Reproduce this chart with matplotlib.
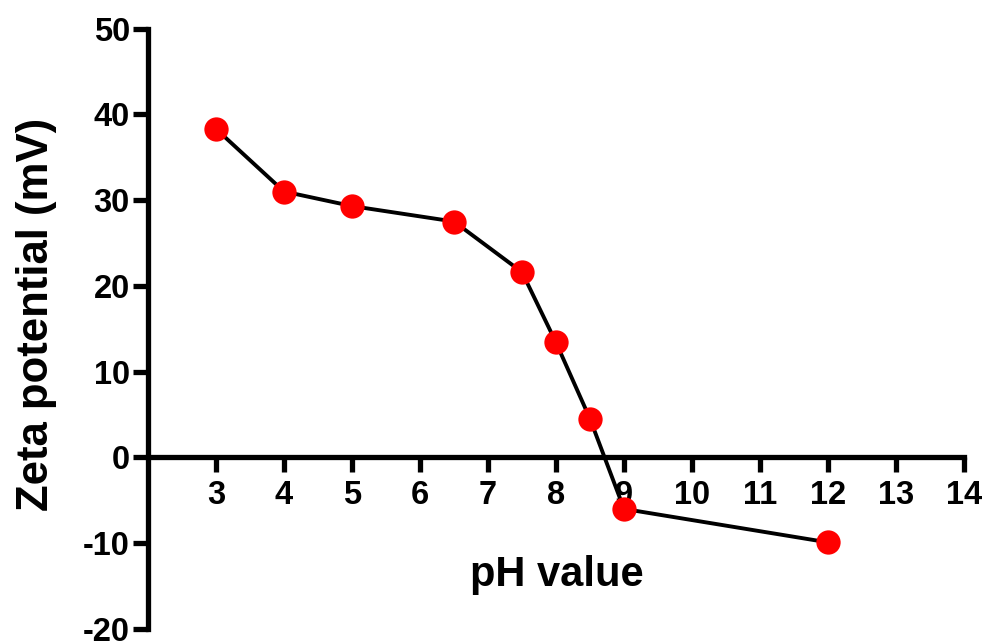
import matplotlib
matplotlib.use("Agg")
import matplotlib.pyplot as plt

# zeta potential measured against pH
ph = [3, 4, 5, 6.5, 7.5, 8, 8.5, 9, 12]
zeta_mv = [38.3, 31.0, 29.3, 27.5, 21.6, 13.4, 4.5, -6.0, -9.9]

x_ticks = [3, 4, 5, 6, 7, 8, 9, 10, 11, 12, 13, 14]
y_ticks = [-20, -10, 0, 10, 20, 30, 40, 50]

plt.rcParams['font.family'] = ['Liberation Sans', 'DejaVu Sans']
plt.rcParams['font.weight'] = 'bold'
plt.rcParams['axes.unicode_minus'] = False

fig = plt.figure(figsize=(9.84, 6.41), dpi=100)
ax = fig.add_axes([0.1504, 0.0187, 0.8293, 0.9368])

ax.plot(ph, zeta_mv, color='black', linewidth=2.8, marker='o',
        markersize=17.5, markerfacecolor='#ff0000', markeredgewidth=0,
        clip_on=False, zorder=3)

ax.set_xlim(2, 14)
ax.set_ylim(-20, 50)
ax.set_xticks(x_ticks)
ax.set_yticks(y_ticks)

ax.spines['top'].set_visible(False)
ax.spines['right'].set_visible(False)
ax.spines['bottom'].set_position(('data', 0))
for side in ('left', 'bottom'):
    ax.spines[side].set_linewidth(3.8)

ax.tick_params(axis='x', direction='out', length=10.5, width=3.8,
               pad=6, labelsize=23.5)
ax.tick_params(axis='y', direction='out', length=10.5, width=3.8,
               pad=2.5, labelsize=23.5)
for lab in ax.get_xticklabels() + ax.get_yticklabels():
    lab.set_fontweight('bold')

ax.set_xlabel('pH value', fontsize=30, fontweight='bold')
ax.xaxis.set_label_coords(0.5006, 0.0716)
ax.xaxis.label.set_verticalalignment('baseline')

ax.set_ylabel('Zeta potential (mV)', fontsize=31.5, fontweight='bold')
ax.yaxis.set_label_coords(-0.112, 0.524)

fig.savefig('out.png', dpi=100)
